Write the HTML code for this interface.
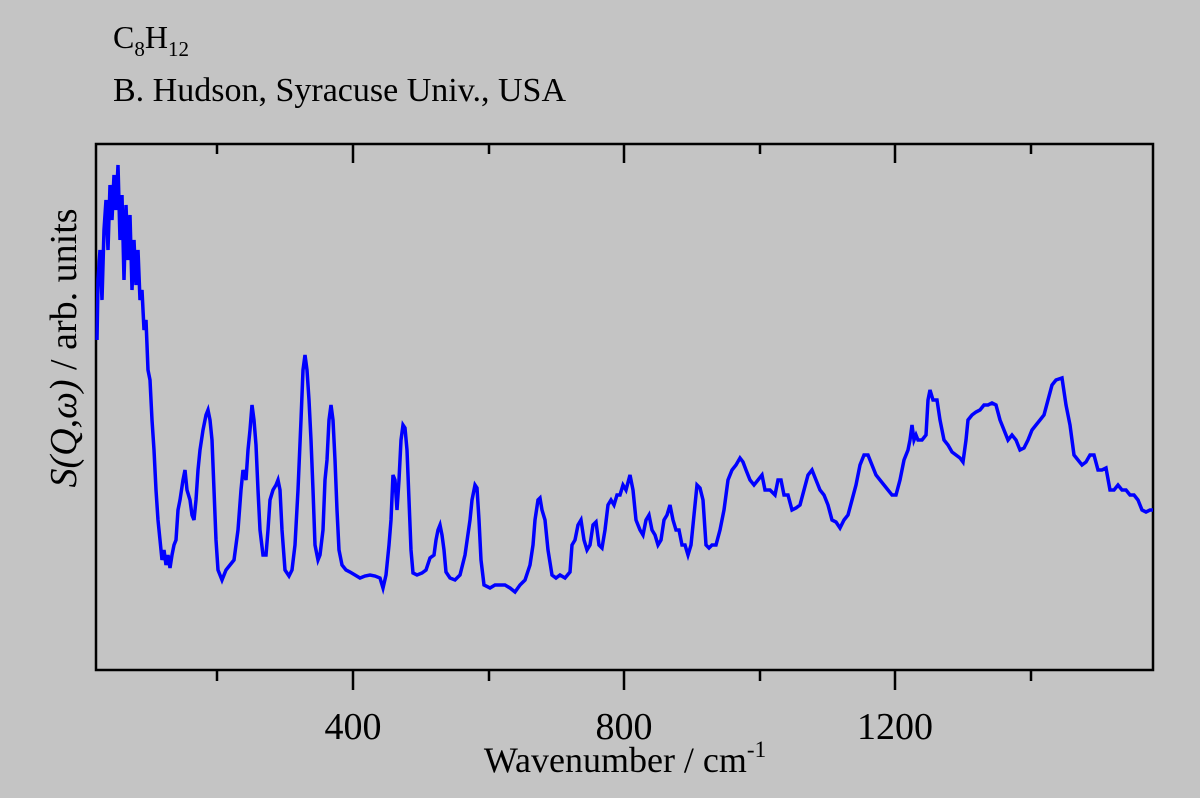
<!DOCTYPE html>
<html><head><meta charset="utf-8"><style>
html,body{margin:0;padding:0;background:#c4c4c4;}
svg{display:block;font-family:"Liberation Serif",serif;}
</style></head><body>
<svg width="1200" height="798" viewBox="0 0 1200 798" xmlns="http://www.w3.org/2000/svg">
<rect width="1200" height="798" fill="#c4c4c4"/>
<text x="113" y="48" font-size="32">C<tspan font-size="21" dy="8">8</tspan><tspan dy="-8">H</tspan><tspan font-size="21" dy="8">12</tspan></text>
<text x="113" y="101" font-size="34">B. Hudson, Syracuse Univ., USA</text>
<rect x="96" y="144" width="1057" height="526" fill="none" stroke="#000" stroke-width="2.5"/>
<g stroke="#000" stroke-width="2.5">
<line x1="217" y1="670" x2="217" y2="681"/><line x1="353" y1="670" x2="353" y2="690"/>
<line x1="489" y1="670" x2="489" y2="681"/><line x1="624" y1="670" x2="624" y2="690"/>
<line x1="760" y1="670" x2="760" y2="681"/><line x1="895" y1="670" x2="895" y2="690"/>
<line x1="1031" y1="670" x2="1031" y2="681"/>
<line x1="217" y1="144" x2="217" y2="154"/><line x1="353" y1="144" x2="353" y2="163"/>
<line x1="489" y1="144" x2="489" y2="154"/><line x1="624" y1="144" x2="624" y2="163"/>
<line x1="760" y1="144" x2="760" y2="154"/><line x1="895" y1="144" x2="895" y2="163"/>
<line x1="1031" y1="144" x2="1031" y2="154"/>
</g>
<g font-size="38" text-anchor="middle">
<text x="353" y="739">400</text><text x="624" y="739">800</text><text x="895" y="739">1200</text>
</g>
<text x="625" y="772" font-size="36" text-anchor="middle">Wavenumber / cm<tspan font-size="23" dy="-15">-1</tspan></text>
<text transform="translate(76,348) rotate(-90)" font-size="38" text-anchor="middle"><tspan font-style="italic">S(Q,ω)</tspan> / arb. units</text>
<polyline fill="none" stroke="#0000ff" stroke-width="3.5" stroke-linejoin="miter" points="97,340 98,280 100,250 102,300 104,230 106,200 108,250 110,185 112,220 114,175 116,210 118,165 120,240 122,195 124,280 126,205 128,260 130,215 132,290 134,240 136,285 138,250 140,300 142,290 144,330 146,320 148,370 150,380 152,420 154,450 156,490 158,520 160,540 162,560 164,550 166,565 168,555 170,568 172,555 174,545 176,540 178,510 180,500 183,480 185,470 187,490 190,500 192,515 194,520 196,500 198,470 200,450 203,430 206,415 208,410 210,420 212,440 214,490 216,540 218,570 222,580 226,570 230,565 234,560 238,530 241,490 243,470 246,480 248,450 250,430 252,405 254,420 256,445 258,490 260,530 263,555 266,555 268,530 270,500 273,490 276,485 278,480 280,490 282,530 285,570 289,576 292,570 295,545 298,490 301,420 303,370 305,355 307,370 309,400 311,440 313,490 315,545 318,560 320,555 323,530 325,480 327,460 329,420 331,405 333,420 335,460 337,510 339,550 342,565 346,570 350,572 355,575 360,578 365,576 370,575 375,576 380,578 383,588 386,575 389,545 391,520 393,475 395,480 397,510 399,480 401,440 403,425 405,428 407,450 409,500 411,550 413,573 417,575 422,573 426,570 430,558 434,555 436,540 438,530 440,525 442,535 444,550 446,572 450,578 455,580 460,575 465,555 470,520 472,500 475,485 477,488 479,520 481,560 484,585 490,588 495,585 500,585 505,585 510,588 515,592 520,585 525,580 530,565 533,545 535,520 538,500 540,498 542,510 545,520 548,550 552,575 556,578 560,575 565,578 570,572 572,545 575,540 578,525 581,520 584,540 587,550 590,545 593,525 596,522 599,545 602,548 605,530 608,505 611,500 614,505 617,495 620,495 623,485 626,490 630,475 633,490 636,520 640,530 643,535 646,520 649,515 652,530 655,535 658,545 661,540 664,520 667,515 670,505 673,520 676,530 679,530 682,545 685,545 688,555 691,545 694,515 697,485 700,488 703,500 706,545 709,548 712,545 716,545 720,530 724,510 728,480 732,470 736,465 740,458 743,462 746,470 750,480 754,485 758,480 762,475 765,490 770,490 775,495 778,480 781,480 784,495 788,495 792,510 796,508 800,505 804,490 808,475 812,470 816,480 820,490 824,495 828,505 832,520 836,522 840,528 844,520 848,515 852,500 856,485 860,465 864,455 868,455 872,465 876,475 880,480 884,485 888,490 892,495 896,495 900,480 904,460 908,450 910,440 912,425 914,440 916,435 918,440 922,440 926,435 928,400 930,390 933,400 937,400 940,420 944,440 948,445 952,452 956,455 960,458 963,462 966,440 968,420 972,415 976,412 980,410 984,405 988,405 992,403 996,405 1000,420 1004,430 1008,440 1012,435 1016,440 1020,450 1024,448 1028,440 1032,430 1036,425 1040,420 1044,415 1048,400 1052,385 1056,380 1062,378 1066,405 1070,425 1074,455 1078,460 1082,465 1086,462 1090,455 1094,455 1098,470 1102,470 1106,468 1110,490 1114,490 1118,485 1122,490 1126,490 1130,495 1134,495 1138,500 1142,510 1146,512 1150,510 1153,510"/>
</svg>
</body></html>
